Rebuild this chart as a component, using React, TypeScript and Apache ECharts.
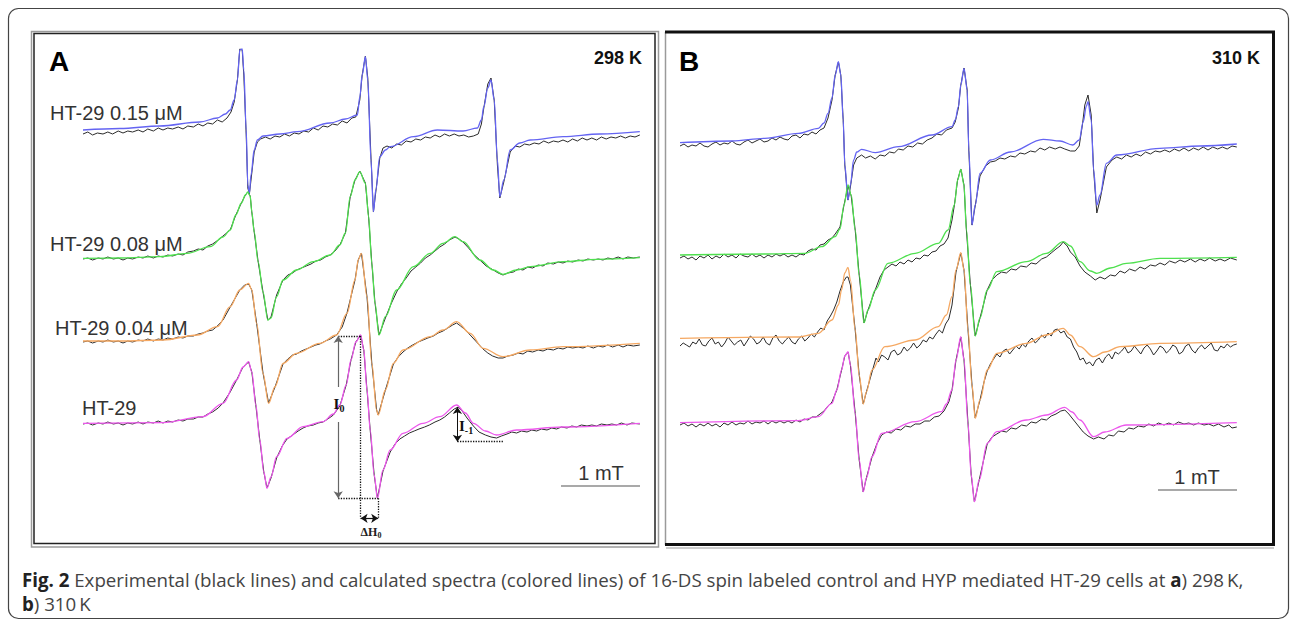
import React, { useEffect, useRef } from 'react';
import * as echarts from 'echarts';

// Field offset in mT (x) and intensity in a.u. (y), stacked spectra.
// ---------- Panel A, 298 K ----------
const fitA015 = [[0,41.0],[0.46,41.15],[0.96,41.4],[1.46,41.8],[1.68,42.2],[1.78,42.6],[1.84,43.0],[1.89,44.0],[1.93,46.0],[1.96,49.0],[1.99,49.1],[2.01,47.0],[2.04,41.0],[2.06,35.5],[2.08,34.7],[2.10,36.5],[2.14,39.0],[2.18,40.0],[2.25,40.4],[2.46,40.6],[2.68,40.83],[3.09,41.7],[3.28,42.1],[3.43,42.5],[3.46,44.3],[3.49,46.5],[3.53,48.33],[3.56,46.0],[3.60,38.0],[3.63,32.83],[3.66,35.0],[3.71,38.33],[3.78,39.0],[3.84,39.33],[4.13,40.33],[4.43,41.0],[4.75,40.9],[4.93,41.2],[4.98,42.0],[5.01,43.33],[5.06,45.2],[5.10,46.0],[5.14,44.0],[5.18,38.0],[5.21,34.33],[5.26,36.0],[5.34,39.0],[5.46,39.7],[5.59,40.0],[6.00,40.33],[6.46,40.6],[6.96,40.83]];
const expA015 = [[0,40.6],[0.06,40.8],[0.12,40.5],[0.18,40.7],[0.25,40.6],[0.31,40.8],[0.37,40.6],[0.44,40.9],[0.50,40.7],[0.56,40.9],[0.62,40.8],[0.69,41.0],[0.75,40.8],[0.81,41.1],[0.88,40.9],[0.94,41.2],[1.00,41.0],[1.06,41.2],[1.12,41.1],[1.19,41.3],[1.25,41.1],[1.31,41.4],[1.38,41.3],[1.44,41.6],[1.50,41.4],[1.56,41.7],[1.62,41.6],[1.68,42.0],[1.74,41.8],[1.80,42.2],[1.85,42.8],[1.89,43.8],[1.93,46.0],[1.96,49.1],[1.99,49.0],[2.01,46.5],[2.04,40.5],[2.06,35.2],[2.08,34.6],[2.10,36.0],[2.14,38.8],[2.18,39.8],[2.22,40.1],[2.28,40.3],[2.34,40.1],[2.40,40.4],[2.46,40.3],[2.52,40.6],[2.58,40.4],[2.64,40.7],[2.70,40.6],[2.76,40.9],[2.82,40.8],[2.88,41.2],[2.94,41.0],[3.00,41.4],[3.06,41.3],[3.12,41.6],[3.18,41.5],[3.24,41.9],[3.30,41.7],[3.36,42.2],[3.41,42.3],[3.46,44.0],[3.49,46.5],[3.53,48.4],[3.56,46.2],[3.60,38.2],[3.63,32.8],[3.66,34.8],[3.71,38.2],[3.75,39.2],[3.80,39.4],[3.86,39.2],[3.92,39.6],[3.98,39.5],[4.04,39.9],[4.10,39.8],[4.16,40.1],[4.22,40.0],[4.28,40.3],[4.34,40.2],[4.40,40.5],[4.46,40.3],[4.52,40.6],[4.58,40.4],[4.64,40.6],[4.70,40.4],[4.76,40.5],[4.82,40.3],[4.88,40.4],[4.94,40.6],[4.98,41.6],[5.01,43.2],[5.06,45.6],[5.10,46.2],[5.14,44.0],[5.18,37.5],[5.21,34.2],[5.26,35.8],[5.34,38.8],[5.40,39.4],[5.46,39.3],[5.52,39.6],[5.58,39.5],[5.64,39.7],[5.70,39.6],[5.76,39.9],[5.82,39.7],[5.88,39.9],[5.94,39.8],[6.00,40.0],[6.06,39.8],[6.12,40.1],[6.18,39.9],[6.24,40.2],[6.30,40.0],[6.36,40.2],[6.42,40.0],[6.48,40.3],[6.54,40.1],[6.60,40.3],[6.66,40.2],[6.72,40.4],[6.78,40.2],[6.84,40.4],[6.90,40.3],[6.96,40.5]];

const fitA008 = [[0,28.17],[0.46,28.2],[0.96,28.33],[1.30,28.67],[1.59,29.33],[1.75,30.3],[1.84,31.0],[1.91,32.5],[1.98,33.7],[2.03,34.5],[2.06,34.8],[2.09,34.4],[2.11,32.8],[2.14,30.8],[2.19,27.8],[2.25,24.8],[2.31,22.0],[2.35,22.2],[2.42,24.33],[2.50,26.0],[2.67,27.0],[2.88,27.83],[3.09,28.5],[3.21,29.5],[3.28,30.7],[3.34,34.33],[3.40,36.0],[3.46,36.83],[3.53,35.67],[3.57,32.33],[3.61,27.67],[3.65,23.67],[3.70,20.5],[3.78,22.33],[3.92,25.0],[4.13,27.33],[4.34,28.67],[4.50,29.67],[4.65,30.33],[4.75,29.83],[4.96,28.0],[5.13,27.0],[5.25,26.57],[5.42,27.0],[5.59,27.33],[6.00,27.83],[6.42,28.07],[6.96,28.23]];
const expA008 = [[0,28.1],[0.06,28.2],[0.12,28.0],[0.19,28.2],[0.25,28.1],[0.31,28.3],[0.38,28.1],[0.44,28.2],[0.50,28.0],[0.56,28.2],[0.62,28.1],[0.69,28.3],[0.75,28.2],[0.81,28.4],[0.88,28.2],[0.94,28.4],[1.00,28.3],[1.06,28.5],[1.12,28.4],[1.19,28.6],[1.25,28.5],[1.31,28.8],[1.38,28.9],[1.44,29.1],[1.50,29.0],[1.56,29.4],[1.62,29.6],[1.69,30.0],[1.75,30.4],[1.84,31.0],[1.91,32.5],[1.98,33.7],[2.03,34.5],[2.06,34.8],[2.09,34.4],[2.11,32.8],[2.14,30.8],[2.19,27.8],[2.25,24.8],[2.31,22.0],[2.35,22.3],[2.42,24.5],[2.50,26.0],[2.56,26.5],[2.62,26.7],[2.67,27.0],[2.73,27.2],[2.79,27.4],[2.85,27.6],[2.91,27.9],[2.97,28.0],[3.03,28.3],[3.09,28.5],[3.15,28.9],[3.21,29.5],[3.28,30.7],[3.34,34.3],[3.40,36.0],[3.46,36.9],[3.53,35.7],[3.57,32.3],[3.61,27.7],[3.65,23.7],[3.70,20.5],[3.78,22.2],[3.85,23.6],[3.92,24.8],[3.98,25.6],[4.04,26.2],[4.10,26.9],[4.16,27.3],[4.22,27.7],[4.28,28.2],[4.34,28.5],[4.40,28.9],[4.46,29.3],[4.52,29.6],[4.58,30.0],[4.65,30.3],[4.70,30.1],[4.75,29.8],[4.82,29.2],[4.88,28.6],[4.96,28.0],[5.04,27.4],[5.13,27.0],[5.19,26.7],[5.25,26.5],[5.31,26.7],[5.38,26.8],[5.44,27.1],[5.50,27.0],[5.56,27.3],[5.62,27.2],[5.69,27.5],[5.75,27.4],[5.81,27.7],[5.88,27.6],[5.94,27.8],[6.00,27.7],[6.06,27.9],[6.12,27.8],[6.19,28.0],[6.25,27.9],[6.31,28.1],[6.38,28.0],[6.44,28.1],[6.50,28.0],[6.56,28.2],[6.62,28.1],[6.69,28.3],[6.75,28.1],[6.81,28.3],[6.88,28.2],[6.96,28.3]];

const fitA004 = [[0,19.9],[0.46,19.9],[1.00,20.0],[1.43,20.5],[1.68,21.33],[1.84,23.33],[1.96,25.0],[2.07,25.67],[2.11,25.0],[2.17,21.67],[2.25,16.67],[2.32,13.67],[2.40,15.33],[2.50,17.67],[2.67,18.67],[2.96,19.67],[3.17,20.5],[3.30,22.67],[3.40,26.0],[3.44,28.0],[3.48,28.67],[3.55,24.33],[3.61,17.67],[3.67,13.0],[3.69,12.5],[3.78,15.0],[3.88,17.67],[4.00,19.0],[4.34,20.33],[4.50,21.0],[4.67,21.83],[4.84,20.67],[5.00,19.17],[5.25,18.33],[5.59,19.0],[6.00,19.33],[6.96,19.67]];
const expA004 = [[0,19.8],[0.06,19.9],[0.12,19.7],[0.19,19.9],[0.25,19.8],[0.31,20.0],[0.38,19.8],[0.44,19.9],[0.50,19.7],[0.56,19.9],[0.62,19.8],[0.69,20.0],[0.75,19.9],[0.81,20.1],[0.88,19.9],[0.94,20.1],[1.00,20.0],[1.06,20.2],[1.12,20.1],[1.19,20.3],[1.25,20.2],[1.31,20.4],[1.38,20.4],[1.44,20.6],[1.50,20.7],[1.56,20.9],[1.62,21.0],[1.68,21.4],[1.75,22.0],[1.84,23.3],[1.96,25.0],[2.02,25.5],[2.07,25.6],[2.11,25.0],[2.17,21.7],[2.25,16.7],[2.32,13.7],[2.40,15.3],[2.50,17.6],[2.56,18.1],[2.62,18.5],[2.67,18.6],[2.73,18.9],[2.79,19.1],[2.85,19.3],[2.91,19.5],[2.96,19.6],[3.03,19.9],[3.09,20.1],[3.17,20.5],[3.24,21.3],[3.30,22.7],[3.40,26.0],[3.44,28.0],[3.48,28.7],[3.55,24.3],[3.61,17.7],[3.67,13.0],[3.69,12.5],[3.78,15.0],[3.88,17.6],[3.94,18.3],[4.00,18.8],[4.06,19.2],[4.12,19.5],[4.19,19.8],[4.25,20.0],[4.31,20.2],[4.38,20.4],[4.44,20.7],[4.50,20.9],[4.56,21.2],[4.62,21.5],[4.67,21.7],[4.72,21.4],[4.78,21.0],[4.84,20.5],[4.92,19.8],[5.00,19.1],[5.06,18.7],[5.12,18.4],[5.19,18.2],[5.25,18.2],[5.31,18.4],[5.38,18.5],[5.44,18.7],[5.50,18.6],[5.56,18.9],[5.62,18.8],[5.69,19.0],[5.75,18.9],[5.81,19.1],[5.88,19.0],[5.94,19.2],[6.00,19.1],[6.06,19.3],[6.12,19.2],[6.19,19.3],[6.25,19.2],[6.31,19.4],[6.38,19.2],[6.44,19.4],[6.50,19.3],[6.56,19.5],[6.62,19.3],[6.69,19.5],[6.75,19.3],[6.81,19.5],[6.88,19.4],[6.96,19.5]];

const fitA000 = [[0,11.67],[1.00,11.73],[1.50,12.33],[1.75,13.67],[1.92,16.0],[2.00,17.3],[2.07,17.83],[2.11,16.8],[2.16,13.5],[2.21,10.0],[2.26,6.8],[2.30,5.17],[2.35,6.3],[2.42,8.33],[2.55,10.17],[2.75,11.33],[3.00,11.83],[3.13,12.6],[3.21,13.5],[3.29,15.5],[3.35,18.0],[3.41,19.8],[3.47,20.5],[3.51,19.0],[3.55,15.0],[3.59,11.0],[3.64,6.5],[3.68,4.17],[3.75,7.0],[3.84,9.0],[4.00,10.67],[4.25,11.67],[4.46,12.33],[4.67,13.5],[4.78,12.7],[4.88,11.67],[5.03,10.9],[5.17,10.5],[5.42,11.0],[6.00,11.3],[6.96,11.67]];
const expA000 = [[0,11.6],[0.06,11.7],[0.12,11.5],[0.19,11.7],[0.25,11.6],[0.31,11.8],[0.38,11.6],[0.44,11.7],[0.50,11.5],[0.56,11.7],[0.62,11.6],[0.69,11.8],[0.75,11.6],[0.81,11.8],[0.88,11.7],[0.94,11.9],[1.00,11.7],[1.06,11.9],[1.12,11.8],[1.19,12.0],[1.25,11.9],[1.31,12.1],[1.38,12.1],[1.44,12.3],[1.50,12.3],[1.56,12.6],[1.62,12.8],[1.69,13.2],[1.75,13.7],[1.84,14.8],[1.92,16.0],[2.00,17.3],[2.07,17.8],[2.11,16.8],[2.16,13.5],[2.21,10.0],[2.26,6.8],[2.30,5.2],[2.35,6.2],[2.42,8.2],[2.49,9.4],[2.55,10.1],[2.62,10.5],[2.69,10.9],[2.75,11.2],[2.81,11.4],[2.88,11.5],[2.94,11.7],[3.00,11.8],[3.06,12.1],[3.13,12.5],[3.21,13.4],[3.29,15.5],[3.35,18.0],[3.41,19.8],[3.47,20.5],[3.51,19.0],[3.55,15.0],[3.59,11.0],[3.64,6.5],[3.68,4.2],[3.75,6.9],[3.84,8.8],[3.90,9.6],[3.96,10.1],[4.02,10.4],[4.08,10.7],[4.14,10.9],[4.20,11.1],[4.27,11.3],[4.33,11.5],[4.40,11.8],[4.46,12.0],[4.52,12.3],[4.58,12.7],[4.64,13.1],[4.69,13.3],[4.74,12.9],[4.80,12.2],[4.88,11.4],[4.95,10.8],[5.03,10.5],[5.10,10.3],[5.17,10.2],[5.23,10.4],[5.30,10.6],[5.36,10.8],[5.42,10.7],[5.48,10.9],[5.55,10.8],[5.61,11.0],[5.67,10.9],[5.73,11.1],[5.80,11.0],[5.86,11.2],[5.92,11.1],[5.98,11.3],[6.05,11.2],[6.11,11.4],[6.17,11.3],[6.23,11.5],[6.30,11.4],[6.36,11.5],[6.42,11.4],[6.48,11.6],[6.55,11.5],[6.61,11.6],[6.67,11.5],[6.73,11.7],[6.80,11.5],[6.86,11.7],[6.96,11.6]];

// ---------- Panel B, 310 K ----------
const fitB015 = [[0,39.73],[0.65,39.9],[1.06,40.17],[1.48,40.67],[1.73,41.17],[1.80,41.7],[1.85,42.67],[1.90,44.2],[1.94,46.5],[1.98,47.83],[2.01,46.5],[2.04,42.0],[2.06,37.5],[2.10,34.0],[2.13,35.5],[2.17,38.0],[2.21,38.8],[2.27,39.07],[2.44,38.73],[2.73,39.33],[3.15,40.5],[3.40,41.33],[3.44,42.0],[3.48,43.33],[3.51,45.5],[3.55,47.17],[3.59,45.0],[3.61,39.0],[3.65,31.5],[3.69,33.5],[3.75,36.67],[3.88,38.0],[4.13,38.8],[4.54,40.07],[4.75,39.9],[4.91,39.5],[4.99,40.0],[5.04,41.8],[5.08,43.4],[5.10,43.83],[5.14,42.0],[5.17,37.0],[5.21,33.5],[5.25,34.5],[5.33,37.67],[5.46,38.5],[6.00,39.17],[6.50,39.4],[6.96,39.6]];
const expB015 = [[0,39.4],[0.05,39.6],[0.10,39.3],[0.15,39.5],[0.20,39.4],[0.25,39.7],[0.30,39.4],[0.35,39.3],[0.40,39.6],[0.45,39.8],[0.50,39.5],[0.55,39.7],[0.60,39.6],[0.65,39.9],[0.70,39.6],[0.75,39.5],[0.80,39.8],[0.85,40.0],[0.90,39.7],[0.95,39.9],[1.00,40.1],[1.05,39.8],[1.10,39.9],[1.15,40.2],[1.20,40.0],[1.25,40.3],[1.30,40.1],[1.35,40.0],[1.40,40.4],[1.45,40.5],[1.50,40.2],[1.55,40.6],[1.60,40.5],[1.65,40.8],[1.70,40.6],[1.75,41.0],[1.80,41.2],[1.85,42.2],[1.90,44.0],[1.94,46.5],[1.98,47.8],[2.01,46.5],[2.04,42.0],[2.06,37.5],[2.10,34.0],[2.13,35.3],[2.17,37.5],[2.21,38.2],[2.27,38.5],[2.32,38.2],[2.38,38.4],[2.44,38.1],[2.50,38.5],[2.56,38.4],[2.62,38.8],[2.68,38.7],[2.73,39.1],[2.79,39.0],[2.85,39.4],[2.91,39.3],[2.97,39.7],[3.03,39.6],[3.09,40.0],[3.15,40.2],[3.21,40.6],[3.27,40.5],[3.33,41.0],[3.40,41.2],[3.44,41.8],[3.48,43.2],[3.51,45.5],[3.55,47.2],[3.59,45.0],[3.61,39.0],[3.65,31.5],[3.69,33.4],[3.75,36.4],[3.82,37.4],[3.88,37.8],[3.94,37.9],[4.00,38.2],[4.06,38.1],[4.13,38.4],[4.19,38.3],[4.25,38.7],[4.31,38.6],[4.38,38.9],[4.44,38.8],[4.50,39.2],[4.56,39.0],[4.62,39.3],[4.69,39.1],[4.75,39.3],[4.81,39.1],[4.88,38.9],[4.94,38.9],[4.99,39.4],[5.03,41.5],[5.06,43.5],[5.10,44.5],[5.14,42.5],[5.17,37.0],[5.21,32.7],[5.25,34.0],[5.33,37.3],[5.40,38.0],[5.46,38.3],[5.52,38.1],[5.58,38.5],[5.64,38.3],[5.70,38.6],[5.76,38.4],[5.82,38.8],[5.88,38.6],[5.94,38.9],[6.00,38.8],[6.06,39.0],[6.12,38.8],[6.18,39.1],[6.24,38.9],[6.30,39.2],[6.36,38.9],[6.42,39.2],[6.48,39.0],[6.54,39.3],[6.60,39.0],[6.66,39.3],[6.72,39.1],[6.78,39.3],[6.84,39.1],[6.90,39.4],[6.96,39.3]];

const fitB008 = [[0,28.5],[1.06,28.6],[1.56,28.67],[1.77,29.33],[1.94,30.33],[2.00,31.1],[2.05,33.5],[2.10,35.5],[2.14,34.5],[2.19,31.0],[2.24,26.5],[2.30,21.73],[2.35,23.0],[2.44,25.0],[2.60,27.67],[2.94,28.67],[3.23,29.67],[3.35,31.0],[3.43,33.5],[3.47,36.0],[3.51,37.07],[3.55,35.5],[3.58,31.0],[3.63,25.5],[3.69,20.4],[3.75,22.2],[3.84,25.0],[3.96,26.83],[4.33,27.83],[4.58,28.67],[4.79,29.83],[4.88,29.4],[5.00,27.83],[5.13,26.9],[5.21,26.67],[5.38,27.2],[5.58,27.67],[6.00,28.17],[6.96,28.27]];
const expB008 = [[0,28.2],[0.05,28.4],[0.10,28.1],[0.15,28.3],[0.20,28.0],[0.25,28.4],[0.30,28.2],[0.35,28.5],[0.40,28.1],[0.45,28.4],[0.50,28.2],[0.55,28.6],[0.60,28.3],[0.65,28.5],[0.70,28.2],[0.75,28.6],[0.80,28.4],[0.85,28.3],[0.90,28.6],[0.95,28.3],[1.00,28.5],[1.05,28.2],[1.10,28.5],[1.15,28.3],[1.20,28.6],[1.25,28.4],[1.30,28.6],[1.35,28.3],[1.40,28.5],[1.45,28.3],[1.50,28.6],[1.55,28.5],[1.60,28.9],[1.65,29.1],[1.70,29.0],[1.75,29.5],[1.80,29.6],[1.85,30.0],[1.90,30.2],[1.94,30.6],[2.00,31.3],[2.05,33.5],[2.10,35.4],[2.14,34.4],[2.19,31.0],[2.24,26.5],[2.30,21.7],[2.35,23.0],[2.44,25.0],[2.50,26.3],[2.55,27.0],[2.60,27.3],[2.65,27.6],[2.70,27.4],[2.75,27.8],[2.80,27.6],[2.85,28.0],[2.90,27.8],[2.95,28.2],[3.00,28.1],[3.05,28.5],[3.10,28.4],[3.15,28.8],[3.20,28.9],[3.25,29.4],[3.30,29.6],[3.35,30.2],[3.40,32.0],[3.43,33.5],[3.47,36.0],[3.51,37.1],[3.55,35.5],[3.58,31.0],[3.63,25.5],[3.69,20.4],[3.75,22.2],[3.84,25.0],[3.90,26.0],[3.96,26.5],[4.02,26.8],[4.08,26.7],[4.14,27.1],[4.20,27.0],[4.26,27.4],[4.33,27.3],[4.39,27.7],[4.45,27.6],[4.52,28.1],[4.58,28.3],[4.64,28.7],[4.70,29.1],[4.75,29.4],[4.79,29.8],[4.84,29.4],[4.88,28.8],[4.94,28.3],[5.00,27.4],[5.06,26.8],[5.13,26.4],[5.19,26.0],[5.25,26.3],[5.31,26.1],[5.38,26.5],[5.44,26.4],[5.50,26.9],[5.56,26.7],[5.62,27.1],[5.69,26.9],[5.75,27.3],[5.81,27.1],[5.88,27.5],[5.94,27.4],[6.00,27.7],[6.06,27.5],[6.12,27.9],[6.19,27.7],[6.25,28.0],[6.31,27.8],[6.38,28.1],[6.44,27.8],[6.50,28.1],[6.56,27.9],[6.62,28.2],[6.69,27.9],[6.75,28.1],[6.81,27.9],[6.88,28.2],[6.96,28.0]];

const fitB004 = [[0,20.17],[1.48,20.3],[1.73,20.67],[1.90,22.0],[1.98,23.5],[2.02,25.0],[2.06,26.7],[2.10,27.27],[2.13,26.0],[2.19,21.0],[2.24,16.5],[2.29,13.6],[2.33,14.8],[2.40,17.0],[2.56,19.33],[2.94,20.0],[3.23,21.33],[3.33,22.5],[3.40,24.33],[3.45,27.0],[3.51,28.73],[3.55,27.0],[3.60,21.0],[3.65,15.5],[3.69,12.17],[3.75,14.0],[3.84,17.0],[3.96,18.67],[4.33,19.67],[4.58,20.5],[4.79,21.17],[4.88,20.5],[5.00,19.33],[5.17,18.33],[5.31,18.8],[5.50,19.33],[6.00,19.67],[6.96,19.83]];
const expB004 = [[0,19.4],[0.04,19.7],[0.08,19.5],[0.12,19.3],[0.16,19.8],[0.20,19.6],[0.24,20.1],[0.28,19.5],[0.32,19.4],[0.36,19.9],[0.40,20.2],[0.44,19.6],[0.48,19.8],[0.52,19.3],[0.56,19.7],[0.60,20.3],[0.64,19.9],[0.68,19.5],[0.72,19.8],[0.76,20.0],[0.80,19.4],[0.84,19.9],[0.88,20.4],[0.92,20.1],[0.96,19.6],[1.00,19.8],[1.04,20.3],[1.08,19.7],[1.12,19.5],[1.16,20.2],[1.20,20.5],[1.24,19.9],[1.28,19.6],[1.32,20.0],[1.36,20.3],[1.40,19.8],[1.44,19.6],[1.48,20.1],[1.52,20.4],[1.56,19.9],[1.60,20.2],[1.64,20.6],[1.68,20.3],[1.72,20.8],[1.76,21.2],[1.80,21.0],[1.84,21.9],[1.88,22.4],[1.92,23.0],[1.96,23.8],[2.00,24.9],[2.04,25.8],[2.08,26.3],[2.10,26.3],[2.13,25.5],[2.19,21.0],[2.24,16.5],[2.29,13.6],[2.33,14.8],[2.40,16.8],[2.45,18.2],[2.48,17.8],[2.52,18.5],[2.56,18.3],[2.60,18.0],[2.64,18.8],[2.68,19.0],[2.72,18.5],[2.76,18.7],[2.80,19.3],[2.84,18.9],[2.88,19.2],[2.92,19.7],[2.96,19.2],[3.00,19.5],[3.04,20.0],[3.08,19.8],[3.12,20.3],[3.16,20.1],[3.20,20.6],[3.24,21.0],[3.28,20.7],[3.32,21.6],[3.36,22.1],[3.40,23.5],[3.45,26.8],[3.51,28.7],[3.55,27.0],[3.60,21.0],[3.65,15.5],[3.69,12.2],[3.75,14.0],[3.80,15.8],[3.84,16.9],[3.88,17.6],[3.92,18.1],[3.96,18.6],[4.00,18.3],[4.04,18.9],[4.08,19.1],[4.12,18.6],[4.16,19.0],[4.20,19.4],[4.24,19.1],[4.28,19.6],[4.32,19.3],[4.36,19.9],[4.40,20.2],[4.44,19.7],[4.48,20.0],[4.52,20.5],[4.56,20.2],[4.60,20.7],[4.64,20.4],[4.68,21.0],[4.72,21.1],[4.76,20.7],[4.80,20.9],[4.84,20.3],[4.88,20.1],[4.92,19.3],[4.96,18.8],[5.00,18.0],[5.04,18.2],[5.08,17.6],[5.12,17.8],[5.16,17.4],[5.20,18.0],[5.24,18.2],[5.28,17.7],[5.32,18.3],[5.36,18.6],[5.40,18.1],[5.44,18.8],[5.48,18.6],[5.52,18.9],[5.56,19.3],[5.60,18.7],[5.64,18.9],[5.68,19.4],[5.72,19.0],[5.76,18.6],[5.80,19.2],[5.84,19.5],[5.88,19.1],[5.92,18.5],[5.96,18.9],[6.00,19.4],[6.04,19.2],[6.08,18.7],[6.12,19.0],[6.16,19.5],[6.20,19.3],[6.24,18.6],[6.28,18.8],[6.32,19.4],[6.36,19.6],[6.40,19.0],[6.44,18.7],[6.48,19.2],[6.52,19.5],[6.56,19.1],[6.60,19.4],[6.64,19.7],[6.68,19.0],[6.72,18.9],[6.76,19.4],[6.80,19.2],[6.84,19.6],[6.88,19.3],[6.92,19.5],[6.96,19.6]];

const fitB000 = [[0,11.73],[1.48,11.93],[1.73,12.33],[1.90,13.67],[1.96,15.0],[2.02,17.0],[2.06,18.4],[2.10,18.83],[2.13,17.5],[2.19,12.67],[2.24,8.0],[2.29,4.83],[2.33,6.2],[2.40,8.33],[2.52,10.67],[2.94,11.83],[3.27,12.83],[3.33,13.6],[3.40,15.0],[3.45,18.0],[3.51,20.33],[3.55,18.0],[3.60,11.67],[3.64,6.5],[3.68,3.83],[3.74,6.0],[3.84,9.67],[3.96,10.83],[4.33,12.0],[4.58,12.5],[4.81,13.27],[4.90,12.8],[5.00,12.0],[5.17,10.33],[5.31,10.8],[5.58,11.5],[6.96,11.73]];
const expB000 = [[0,11.5],[0.05,11.7],[0.10,11.4],[0.15,11.6],[0.20,11.3],[0.25,11.6],[0.30,11.4],[0.35,11.7],[0.40,11.4],[0.45,11.6],[0.50,11.3],[0.55,11.7],[0.60,11.5],[0.65,11.8],[0.70,11.5],[0.75,11.7],[0.80,11.6],[0.85,11.9],[0.90,11.6],[0.95,11.8],[1.00,11.7],[1.05,11.9],[1.10,11.6],[1.15,11.9],[1.20,11.7],[1.25,11.9],[1.30,11.7],[1.35,11.9],[1.40,11.7],[1.45,12.0],[1.50,11.8],[1.55,12.1],[1.60,12.0],[1.65,12.3],[1.70,12.3],[1.75,12.6],[1.80,12.9],[1.85,13.4],[1.90,13.8],[1.96,15.0],[2.02,17.0],[2.06,18.4],[2.10,18.8],[2.13,17.5],[2.19,12.7],[2.24,8.0],[2.29,4.8],[2.33,6.2],[2.40,8.3],[2.46,9.6],[2.52,10.5],[2.58,10.8],[2.64,10.7],[2.70,11.1],[2.76,11.0],[2.82,11.4],[2.88,11.3],[2.94,11.6],[3.00,11.6],[3.06,11.9],[3.12,11.9],[3.18,12.3],[3.24,12.4],[3.30,12.9],[3.36,13.8],[3.40,15.0],[3.45,18.0],[3.51,20.3],[3.55,18.0],[3.60,11.7],[3.64,6.5],[3.68,3.8],[3.74,6.0],[3.84,9.6],[3.90,10.3],[3.96,10.6],[4.02,10.9],[4.08,10.8],[4.14,11.2],[4.20,11.1],[4.27,11.5],[4.33,11.4],[4.39,11.8],[4.45,11.7],[4.52,12.1],[4.58,12.0],[4.64,12.4],[4.70,12.6],[4.76,12.9],[4.81,13.0],[4.86,12.6],[4.92,12.0],[4.98,11.4],[5.04,10.8],[5.10,10.4],[5.17,10.1],[5.23,10.3],[5.30,10.1],[5.36,10.5],[5.42,10.4],[5.48,10.9],[5.55,10.8],[5.61,11.2],[5.67,11.1],[5.73,11.4],[5.80,11.3],[5.86,11.6],[5.92,11.4],[5.98,11.7],[6.05,11.5],[6.11,11.7],[6.17,11.5],[6.23,11.8],[6.30,11.6],[6.36,11.7],[6.42,11.5],[6.48,11.7],[6.55,11.5],[6.61,11.6],[6.67,11.4],[6.73,11.6],[6.80,11.3],[6.86,11.5],[6.90,11.2],[6.96,11.3]];

const sampleLabels = ['HT-29 0.15 μM', 'HT-29 0.08 μM', 'HT-29 0.04 μM', 'HT-29'];
const fitColors = ['#6464f2', '#4fe04f', '#f5a862', '#ec58ec'];
const panelTemps = ['298 K', '310 K'];
const panelLetters = ['A', 'B'];
const scaleText = '1 mT';

const panels = [
  { exp: [expA015, expA008, expA004, expA000], fit: [fitA015, fitA008, fitA004, fitA000] },
  { exp: [expB015, expB008, expB004, expB000], fit: [fitB015, fitB008, fitB004, fitB000] },
];

// Annotation geometry in data units (panel A)
const annI0 = { x: 3.19, top: 20.4, bottom: 4.17, gapTop: 15.3, gapBottom: 11.8 };
const annDH = { x1: 3.47, x2: 3.69, y: 2.17 };
const annI1 = { x: 4.68, top: 13.3, bottom: 9.83, xEnd: 5.25 };

const SANS = 'Liberation Sans, Arial, sans-serif';
const SERIF = 'Liberation Serif, Times New Roman, serif';

function buildOption() {
  const series: any[] = [];
  panels.forEach((p, gi) => {
    p.exp.forEach((d) => {
      series.push({
        type: 'line', xAxisIndex: gi, yAxisIndex: gi, data: d, symbol: 'none', silent: true,
        lineStyle: { color: '#2b2b2b', width: 1 }, z: 2,
      });
    });
    p.fit.forEach((d, i) => {
      series.push({
        type: 'line', xAxisIndex: gi, yAxisIndex: gi, data: d, symbol: 'none', silent: true,
        smooth: 0.35, smoothMonotone: 'x',
        lineStyle: { color: fitColors[i], width: 1.3 }, z: 3,
      });
    });
  });

  const dotted = { type: 'dotted', color: '#111', width: 1.3 };
  const solid = { type: 'solid', color: '#666', width: 1.2 };
  const seg = (a: number[], b: number[], ls: any, s1 = 'none', s2 = 'none') => [
    { coord: a, symbol: s1, symbolSize: 7, lineStyle: ls },
    { coord: b, symbol: s2, symbolSize: 7 },
  ];
  series.push({
    type: 'line', xAxisIndex: 0, yAxisIndex: 0, data: [], silent: true, z: 4,
    markLine: {
      silent: true, animation: false, symbol: ['none', 'none'], label: { show: false },
      data: [
        seg([annI0.x, annI0.top], [annDH.x1, annI0.top], dotted),
        seg([annI0.x, annI0.bottom], [annDH.x2, annI0.bottom], dotted),
        seg([annI0.x, annI0.gapTop], [annI0.x, annI0.top], solid, 'none', 'arrow'),
        seg([annI0.x, annI0.gapBottom], [annI0.x, annI0.bottom], solid, 'none', 'arrow'),
        seg([annDH.x1, annI0.top], [annDH.x1, annDH.y], dotted),
        seg([annDH.x2, annI0.bottom], [annDH.x2, annDH.y], dotted),
        seg([annDH.x1, annDH.y], [annDH.x2, annDH.y], { type: 'solid', color: '#111', width: 1.2 }, 'arrow', 'arrow'),
        seg([annI1.x, annI1.bottom], [annI1.x, annI1.top], { type: 'solid', color: '#111', width: 1 }, 'arrow', 'arrow'),
        seg([annI1.x, annI1.bottom], [annI1.xEnd, annI1.bottom], dotted),
      ],
    },
  });

  const txt = (x: number, y: number, text: string, font: string, fill = '#333', align = 'left', extra: any = {}) => ({
    type: 'text', x, y, silent: true, z: 10,
    style: { text, font, fill, textAlign: align, textVerticalAlign: 'middle', ...extra },
  });

  const capFont = 'Open Sans, Liberation Sans, sans-serif';
  const graphic: any[] = [
    // outer frame
    { type: 'rect', shape: { x: 8.5, y: 8.5, width: 1280, height: 610, r: 10 }, style: { fill: 'none', stroke: '#444', lineWidth: 1.2 }, z: 1 },
    // panel A frame (double)
    { type: 'rect', shape: { x: 31.5, y: 31.5, width: 627, height: 515.5 }, style: { fill: 'none', stroke: '#9a9a9a', lineWidth: 1.5 }, z: 1 },
    { type: 'rect', shape: { x: 34, y: 33.5, width: 621, height: 510 }, style: { fill: 'none', stroke: '#222', lineWidth: 1.5 }, z: 1 },
    // panel B frame
    { type: 'line', shape: { x1: 665.5, y1: 32, x2: 665.5, y2: 545 }, style: { stroke: '#9a9a9a', lineWidth: 1.5 }, z: 1 },
    { type: 'polyline', shape: { points: [[665, 32], [1273.5, 32], [1273.5, 544.5], [665, 544.5]] }, style: { fill: 'none', stroke: '#111', lineWidth: 3 }, z: 1 },
    { type: 'line', shape: { x1: 666, y1: 548, x2: 1274, y2: 548 }, style: { stroke: '#9a9a9a', lineWidth: 1 }, z: 1 },
    // letters and temperatures
    txt(49, 61, panelLetters[0], `bold 28px ${SANS}`, '#000'),
    txt(679, 61, panelLetters[1], `bold 28px ${SANS}`, '#000'),
    txt(642, 58, panelTemps[0], `bold 18px ${SANS}`, '#111', 'right'),
    txt(1260, 58, panelTemps[1], `bold 18px ${SANS}`, '#111', 'right'),
    // sample labels
    txt(50, 113, sampleLabels[0], `20px ${SANS}`),
    txt(50, 244, sampleLabels[1], `20px ${SANS}`),
    txt(55, 328, sampleLabels[2], `20px ${SANS}`),
    txt(82, 408, sampleLabels[3], `20px ${SANS}`),
    // scale bars
    { type: 'line', shape: { x1: 561, y1: 486, x2: 640, y2: 486 }, style: { stroke: '#555', lineWidth: 1.2 }, z: 5 },
    txt(601, 473, scaleText, `20px ${SANS}`, '#333', 'center'),
    { type: 'line', shape: { x1: 1158, y1: 490, x2: 1237, y2: 490 }, style: { stroke: '#555', lineWidth: 1.2 }, z: 5 },
    txt(1197, 477, scaleText, `20px ${SANS}`, '#333', 'center'),
    // annotation labels
    { type: 'text', x: 339, y: 404, silent: true, z: 10, style: { text: '{m|I}{s|0}', textAlign: 'center', textVerticalAlign: 'middle', rich: { m: { font: `bold 15px ${SERIF}`, fill: '#111' }, s: { font: `bold 10px ${SERIF}`, fill: '#111', padding: [8, 0, 0, 0] } } } },
    { type: 'text', x: 459, y: 426, silent: true, z: 10, style: { text: '{m|I}{s|-1}', textAlign: 'left', textVerticalAlign: 'middle', rich: { m: { font: `bold 15px ${SERIF}`, fill: '#111' }, s: { font: `bold 10px ${SERIF}`, fill: '#111', padding: [8, 0, 0, 0] } } } },
    { type: 'text', x: 371, y: 532, silent: true, z: 10, style: { text: '{m|ΔH}{s|0}', textAlign: 'center', textVerticalAlign: 'middle', rich: { m: { font: `bold 12px ${SERIF}`, fill: '#222' }, s: { font: `bold 8px ${SERIF}`, fill: '#222', padding: [6, 0, 0, 0] } } } },
    // caption
    { type: 'text', x: 22, y: 579, silent: true, z: 10, style: {
      text: '{b|Fig. 2} Experimental (black lines) and calculated spectra (colored lines) of 16-DS spin labeled control and HYP mediated HT-29 cells at {b|a}) 298\u2009K,',
      font: `18.7px ${capFont}`, fill: '#444', textVerticalAlign: 'middle',
      rich: { b: { font: `bold 18.7px ${capFont}`, fill: '#222' } },
    } },
    { type: 'text', x: 22, y: 603, silent: true, z: 10, style: {
      text: '{b|b}) 310\u2009K', font: `18.7px ${capFont}`, fill: '#444', textVerticalAlign: 'middle',
      rich: { b: { font: `bold 18.7px ${capFont}`, fill: '#222' } },
    } },
  ];

  return {
    animation: false,
    backgroundColor: '#fff',
    grid: [
      { left: 83, top: 40, width: 560, height: 500 },
      { left: 680, top: 40, width: 560, height: 500 },
    ],
    xAxis: [
      { type: 'value', gridIndex: 0, min: 0, max: 7, show: false },
      { type: 'value', gridIndex: 1, min: 0, max: 7, show: false },
    ],
    yAxis: [
      { type: 'value', gridIndex: 0, min: 0, max: 50, show: false },
      { type: 'value', gridIndex: 1, min: 0, max: 50, show: false },
    ],
    series,
    graphic,
  };
}

export default function App() {
  const ref = useRef<HTMLDivElement>(null);
  useEffect(() => {
    document.body.style.margin = '0';
    const chart = echarts.init(ref.current as HTMLDivElement, null, { renderer: 'svg' });
    chart.setOption(buildOption() as any);
    return () => chart.dispose();
  }, []);
  return <div ref={ref} style={{ width: 1290, height: 620 }} />;
}
